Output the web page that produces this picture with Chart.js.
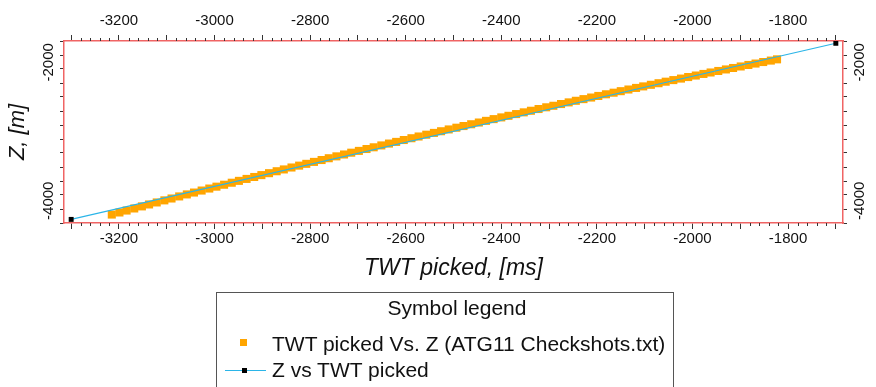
<!DOCTYPE html>
<html>
<head>
<meta charset="utf-8">
<script src="https://cdn.jsdelivr.net/npm/chart.js@4/dist/chart.umd.min.js"></script>
<style>
  body { margin: 0; background: #fff; }
  #wrap { position: relative; width: 876px; height: 387px; overflow: hidden; font-family: Arial, "Liberation Sans", sans-serif; }
  #legend { position: absolute; left: 216px; top: 292px; width: 458px; height: 120px; border: 1px solid #555; box-sizing: border-box; background: #fff; }
  #legend .title { position: absolute; left: 12px; width: 100%; top: 3px; text-align: center; font-size: 21px; color: #111; }
  #legend .item { position: absolute; left: 55px; font-size: 21px; color: #111; white-space: nowrap; }
  #legend .sq { position: absolute; }
</style>
</head>
<body>
<div id="wrap">
  <canvas id="chart" width="876" height="387"></canvas>
  <div id="legend">
    <div class="title">Symbol legend</div>
    <div class="sq" style="left:23px;top:46px;width:7px;height:7px;background:#ffa500"></div>
    <div class="item" style="top:39px">TWT picked Vs. Z (ATG11 Checkshots.txt)</div>
    <div class="sq" style="left:8px;top:77px;width:41px;height:1px;background:#2bb5e8"></div>
    <div class="sq" style="left:25px;top:75px;width:5px;height:5px;background:#000"></div>
    <div class="item" style="top:65px">Z vs TWT picked</div>
  </div>
</div>
<script>
// puntos (TWT picked en ms, Z en m)
const twtPicked = [-3215,-3199,-3184,-3168,-3152,-3137,-3121,-3105,-3090,-3074,
  -3058,-3043,-3027,-3011,-2996,-2980,-2964,-2949,-2933,-2917,
  -2902,-2886,-2870,-2855,-2839,-2823,-2808,-2792,-2776,-2761,
  -2745,-2729,-2714,-2698,-2682,-2667,-2651,-2635,-2620,-2604,
  -2588,-2573,-2557,-2541,-2526,-2510,-2494,-2479,-2463,-2447,
  -2432,-2416,-2400,-2385,-2369,-2353,-2338,-2322,-2306,-2291,
  -2275,-2259,-2244,-2228,-2212,-2197,-2181,-2165,-2150,-2134,
  -2118,-2103,-2087,-2071,-2056,-2040,-2024,-2009,-1993,-1977,
  -1962,-1946,-1930,-1915,-1899,-1883,-1868,-1852,-1836,-1823]
const zPicked = [-4200,-4170,-4142,-4112,-4082,-4054,-4025,-3995,-3968,-3938,
  -3909,-3882,-3853,-3824,-3797,-3769,-3740,-3713,-3685,-3657,
  -3630,-3602,-3574,-3548,-3520,-3493,-3467,-3439,-3412,-3386,
  -3359,-3332,-3306,-3280,-3253,-3228,-3201,-3174,-3150,-3123,
  -3097,-3072,-3046,-3020,-2996,-2970,-2945,-2921,-2895,-2870,
  -2846,-2821,-2796,-2773,-2748,-2723,-2700,-2675,-2650,-2628,
  -2603,-2579,-2556,-2532,-2509,-2486,-2462,-2439,-2417,-2393,
  -2370,-2348,-2325,-2302,-2280,-2257,-2235,-2213,-2191,-2168,
  -2147,-2125,-2103,-2082,-2060,-2038,-2018,-1996,-1975,-1957]

// recta Z vs TWT picked
const lineTwt = [-3300, -1700]
const lineZ = [-4270, -1725]

// etiquetas de los ejes
const xTickLabels = [-3200, -3000, -2800, -2600, -2400, -2200, -2000, -1800]
const yTickLabels = [-4000, -2000]

const FONT = 'Arial, "Liberation Sans", sans-serif'
const FRAME = '#f06464'
const TICK = '#333'

let picked = [], line = []
for (let i = 0; i < twtPicked.length; i++) picked.push({ x: twtPicked[i], y: zPicked[i] })
for (let i = 0; i < lineTwt.length; i++) line.push({ x: lineTwt[i], y: lineZ[i] })

function xAxis(pos, pad, h) {
  return {
    type: 'linear', position: pos, min: -3315, max: -1685,
    border: { color: FRAME, width: 1.5 },
    grid: { drawOnChartArea: false, drawTicks: true, tickLength: 6, color: TICK },
    ticks: {
      stepSize: 100, autoSkip: false, maxRotation: 0, includeBounds: false,
      padding: pad, color: '#111', font: { family: FONT, size: 15 },
      callback: v => xTickLabels.includes(v) ? String(v) : ''
    },
    afterFit: s => { s.height = h }
  }
}
function yAxis(pos, w) {
  // las etiquetas giradas se dibujan en el plugin yLabels
  return {
    type: 'linear', position: pos, min: -4322, max: -1692,
    border: { color: FRAME, width: 1.5 },
    grid: { drawOnChartArea: false, drawTicks: true, tickLength: 4, color: TICK },
    ticks: { stepSize: 200, autoSkip: false, includeBounds: false, callback: () => '' },
    afterFit: s => { s.width = w }
  }
}

// ticks menores cada 20 ms en los ejes horizontales
const minorTicks = {
  id: 'minorTicks',
  afterDraw(chart) {
    const ctx = chart.ctx
    ctx.save()
    ctx.strokeStyle = TICK
    ctx.lineWidth = 1
    for (const id of ['x', 'x2']) {
      const s = chart.scales[id]
      const top = id === 'x'
      for (let v = -3300; v <= -1700; v += 20) {
        if (v % 100 === 0) continue
        const px = Math.round(s.getPixelForValue(v)) + 0.5
        const y0 = top ? s.top : s.bottom
        ctx.beginPath()
        ctx.moveTo(px, y0)
        ctx.lineTo(px, top ? y0 + 3 : y0 - 3)
        ctx.stroke()
      }
    }
    ctx.restore()
  }
}

// etiquetas verticales de Z en ambos lados
const yLabels = {
  id: 'yLabels',
  afterDraw(chart) {
    const ctx = chart.ctx
    ctx.save()
    ctx.fillStyle = '#111'
    ctx.font = '15px ' + FONT
    ctx.textAlign = 'center'
    ctx.textBaseline = 'middle'
    const l = chart.scales.y, r = chart.scales.y2
    for (const v of yTickLabels) {
      for (const [s, x] of [[l, l.right - 16.5], [r, r.left + 16]]) {
        ctx.save()
        ctx.translate(x, s.getPixelForValue(v))
        ctx.rotate(-Math.PI / 2)
        ctx.fillText(String(v), 0, 1)
        ctx.restore()
      }
    }
    ctx.restore()
  }
}

const xb = xAxis('bottom', 1, 164)
xb.title = { display: true, text: 'TWT picked, [ms]', color: '#111', font: { family: FONT, size: 23, style: 'italic' }, padding: { top: 0, bottom: 105 } }
const yl = yAxis('left', 64)
yl.title = { display: true, text: 'Z, [m]', color: '#111', font: { family: FONT, size: 22, style: 'italic' }, padding: { top: 4.8, bottom: 0 } }

new Chart(document.getElementById('chart'), {
  type: 'scatter',
  data: {
    datasets: [{
      label: 'Z vs TWT picked',
      data: line,
      showLine: true,
      borderColor: '#2bb5e8',
      borderWidth: 1.2,
      pointStyle: 'rect',
      pointRadius: 3.5,
      pointBackgroundColor: '#000',
      pointBorderColor: '#000',
      pointBorderWidth: 0,
      order: 0
    }, {
      label: 'TWT picked Vs. Z (ATG11 Checkshots.txt)',
      data: picked,
      pointStyle: 'rect',
      pointRadius: 5.7,
      pointBackgroundColor: '#ffa500',
      pointBorderColor: '#ffb020',
      pointBorderWidth: 0,
      order: 1
    }]
  },
  options: {
    responsive: false,
    devicePixelRatio: 1,
    animation: false,
    layout: { padding: 0 },
    plugins: { legend: { display: false }, tooltip: { enabled: false } },
    scales: {
      x: xb,
      x2: xAxis('top', 5, 41),
      y: yl,
      y2: yAxis('right', 33)
    }
  },
  plugins: [minorTicks, yLabels]
})
</script>
</body>
</html>
